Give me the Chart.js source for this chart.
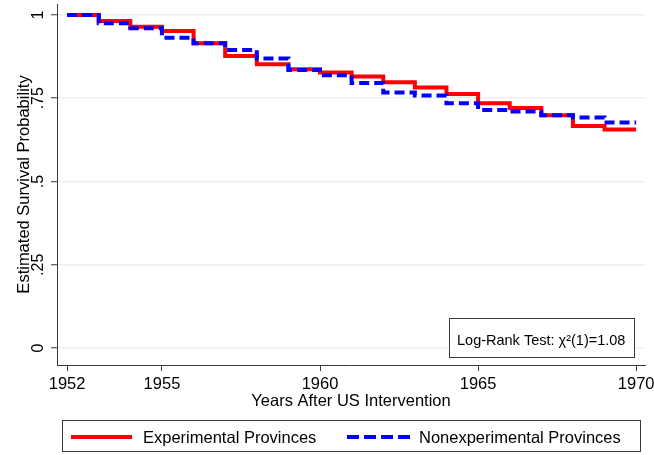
<!DOCTYPE html>
<html>
<head>
<meta charset="utf-8">
<script src="https://cdn.jsdelivr.net/npm/chart.js@4.4.1/dist/chart.umd.min.js"></script>
<style>
  body { margin: 0; background: #fff; }
  #wrap { width: 654px; height: 455px; }
</style>
</head>
<body>
<div id="wrap"><canvas id="myChart"></canvas></div>
<script>
// DATOS (curvas de supervivencia escalonadas)
const years = [1952, 1953, 1954, 1955, 1956, 1957, 1958, 1959, 1960, 1961, 1962, 1963, 1964, 1965, 1966, 1967, 1968, 1969, 1970];
const experimental = [1, .982, .965, .952, .915, .877, .852, .837, .827, .815, .798, .782, .763, .735, .721, .699, .667, .656, .656];
const nonexperimental = [1, .975, .96, .932, .915, .895, .869, .835, .819, .796, .767, .758, .735, .715, .71, .699, .692, .677, .677];
const xTicks = [1952, 1955, 1960, 1965, 1970];
const yTicks = [0, .25, .5, .75, 1];
const yTickLabels = ["0", ".25", ".5", ".75", "1"];
const seriesNames = ["Experimental Provinces", "Nonexperimental Provinces"];
const xTitle = "Years After US Intervention";
const yTitle = "Estimated Survival Probability";
const testText = "Log-Rank Test: \u03C7\u00B2(1)=1.08";

const FONT = "'Liberation Sans', Arial, Helvetica, sans-serif";
const RED = "rgb(255, 0, 0)";
const BLUE = "rgb(0, 0, 255)";
const AXIS = "#3a3a3a";

function toPoints(_values){ // une años y valores en puntos {x, y}
    return years.map((el, i) => ({x: el, y: _values[i]}));
}

// Plugin que dibuja textos rotados, cuadro del test y leyenda con borde
const textPlugin = {
    id: "textPlugin",
    afterDraw(chart){
        const ctx = chart.ctx;
        const area = chart.chartArea;
        const yScale = chart.scales.y;
        ctx.save();
        ctx.fillStyle = "#000";

        // etiquetas del eje y, rotadas como en Stata
        ctx.font = "16px " + FONT;
        ctx.textAlign = "center";
        ctx.textBaseline = "alphabetic";
        yTicks.forEach((v, i) => {
            ctx.save();
            ctx.translate(43, yScale.getPixelForValue(v));
            ctx.rotate(-Math.PI / 2);
            ctx.fillText(yTickLabels[i], 0, 0);
            ctx.restore();
        });

        // titulo eje y
        ctx.font = "16.5px " + FONT;
        ctx.save();
        ctx.translate(28.5, (area.top + area.bottom) / 2);
        ctx.rotate(-Math.PI / 2);
        ctx.fillText(yTitle, 0, 0);
        ctx.restore();

        // titulo eje x
        ctx.fillText(xTitle, (area.left + area.right) / 2, 406);

        // cuadro Log-Rank
        ctx.fillStyle = "#fff";
        ctx.fillRect(449.5, 318.5, 185, 39);
        ctx.strokeStyle = AXIS;
        ctx.lineWidth = 1;
        ctx.strokeRect(449.5, 318.5, 185, 39);
        ctx.fillStyle = "#000";
        ctx.font = "14.5px " + FONT;
        ctx.textAlign = "left";
        ctx.fillText(testText, 457, 345);

        // leyenda
        ctx.strokeRect(62.5, 420.5, 578, 31);
        ctx.lineWidth = 4;
        ctx.lineCap = "butt";
        ctx.strokeStyle = RED;
        ctx.beginPath(); ctx.moveTo(71, 437); ctx.lineTo(132, 437); ctx.stroke();
        ctx.strokeStyle = BLUE;
        ctx.setLineDash([12, 5]);
        ctx.beginPath(); ctx.moveTo(347, 437); ctx.lineTo(410, 437); ctx.stroke();
        ctx.setLineDash([]);
        ctx.font = "16.5px " + FONT;
        ctx.fillText(seriesNames[0], 143, 443);
        ctx.fillText(seriesNames[1], 419, 443);
        ctx.restore();
    }
};

const data = {
    datasets: [
        {
            label: seriesNames[0],
            data: toPoints(experimental),
            borderColor: RED,
            backgroundColor: RED,
            borderWidth: 4,
            stepped: "before",
            pointRadius: 0,
            fill: false,
            order: 2,
        },
        {
            label: seriesNames[1],
            data: toPoints(nonexperimental),
            borderColor: BLUE,
            backgroundColor: BLUE,
            borderWidth: 4,
            borderDash: [10, 5],
            stepped: "before",
            pointRadius: 0,
            fill: false,
            order: 1,
        },
    ],
};

const config = {
    type: "line",
    data: data,
    options: {
        responsive: true,
        maintainAspectRatio: false,
        animation: false,
        layout: { padding: { left: 0, right: 9, top: 4, bottom: 0 } },
        plugins: {
            legend: { display: false },
            tooltip: { enabled: false },
        },
        scales: {
            x: {
                type: "linear",
                min: 1951.68,
                max: 1970.28,
                afterBuildTicks: (s) => { s.ticks = xTicks.map(v => ({ value: v })); },
                afterFit: (s) => { s.height = 90; s.paddingLeft = 0; s.paddingRight = 0; }, // sin espacio extra por etiquetas
                ticks: {
                    color: "#000",
                    font: { family: FONT, size: 16.5 },
                    padding: 4,
                    maxRotation: 0,
                    callback: (v) => String(v),
                },
                grid: { drawOnChartArea: false, drawTicks: true, tickLength: 6, tickColor: AXIS, tickWidth: 1 },
                border: { display: true, color: AXIS, width: 1 },
            },
            y: {
                type: "linear",
                min: -0.051,
                max: 1.033,
                afterBuildTicks: (s) => { s.ticks = yTicks.map(v => ({ value: v })); },
                afterFit: (s) => { s.width = 57; s.paddingTop = 0; s.paddingBottom = 0; },
                ticks: { display: false },
                grid: { color: "#e7eff2", lineWidth: 1.5, drawTicks: true, tickLength: 6, tickColor: AXIS, tickWidth: 1 },
                border: { display: true, color: AXIS, width: 1 },
            },
        },
    },
    plugins: [textPlugin],
};

new Chart(document.getElementById("myChart"), config);
</script>
</body>
</html>
